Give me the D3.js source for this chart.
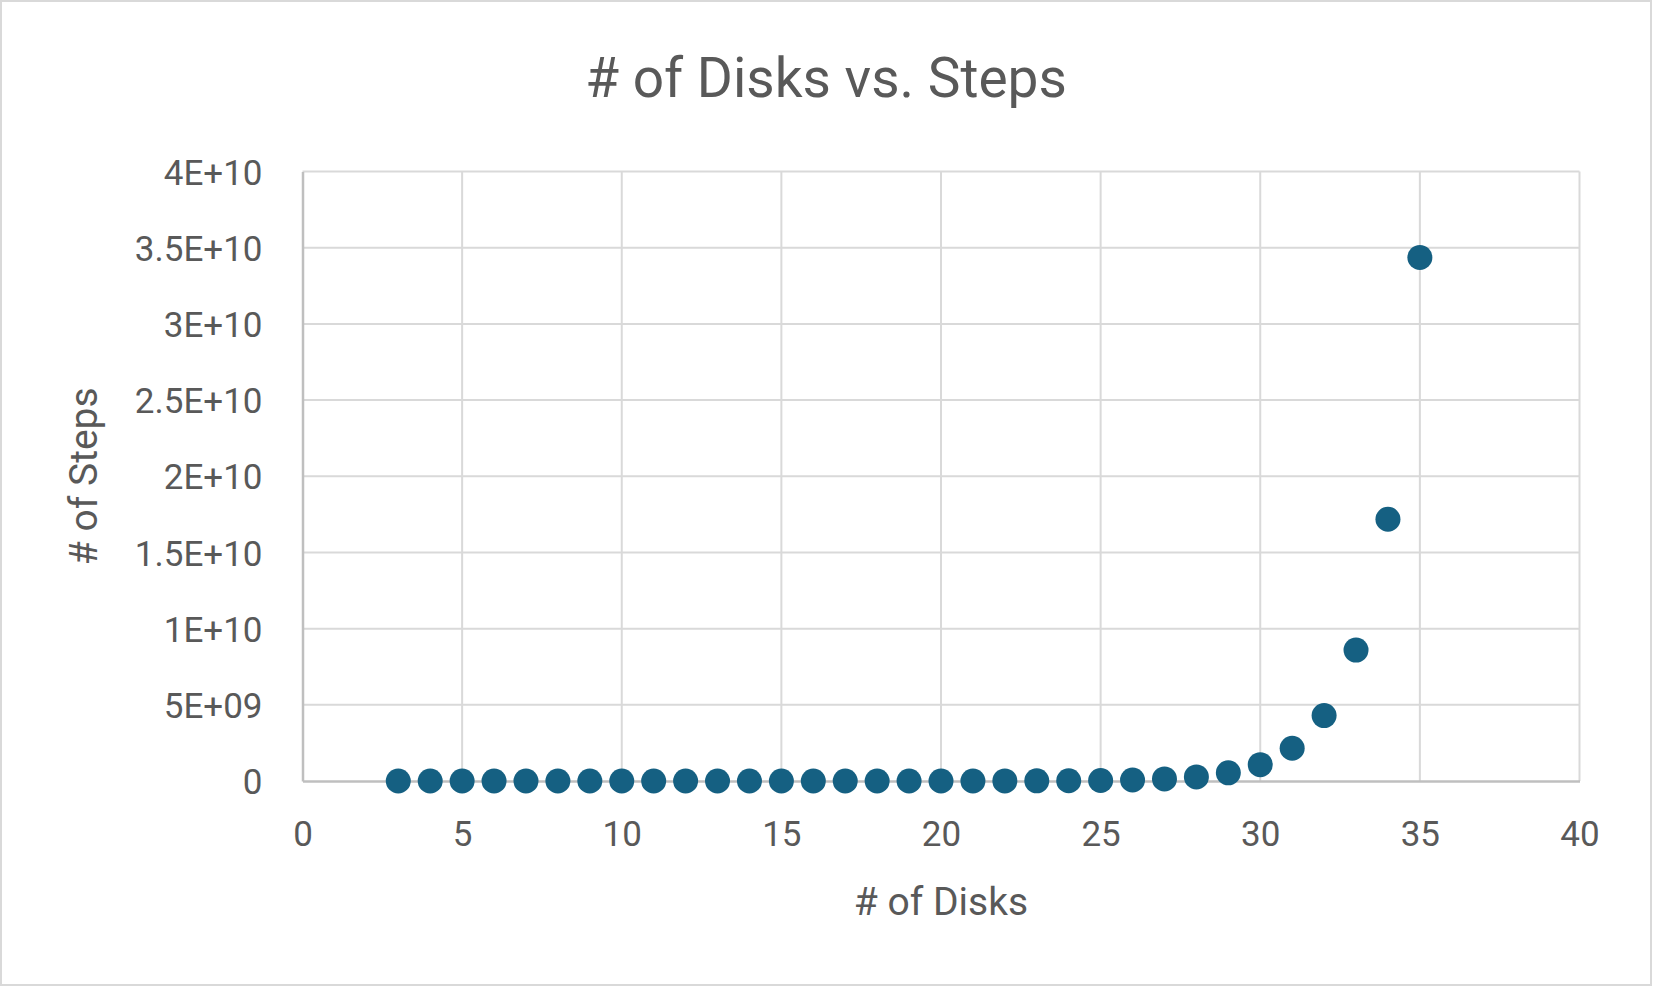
<!DOCTYPE html>
<html>
<head>
<meta charset="utf-8">
<script src="https://cdn.jsdelivr.net/npm/d3@7"></script>
<style>
  html, body { margin: 0; padding: 0; background: #fff; }
  svg { display: block; }
  text { font-family: Roboto, "Liberation Sans", sans-serif; fill: #595959; }
</style>
</head>
<body>
<svg id="chart" width="1653" height="987"></svg>
<script>
const chartTitle = "# of Disks vs. Steps";
const xTitle = "# of Disks";
const yTitle = "# of Steps";
const disks = [3, 4, 5, 6, 7, 8, 9, 10, 11, 12, 13, 14, 15, 16, 17, 18, 19, 20, 21, 22, 23, 24, 25, 26, 27, 28, 29, 30, 31, 32, 33, 34, 35];
const steps = [7, 15, 31, 63, 127, 255, 511, 1023, 2047, 4095, 8191, 16383, 32767, 65535, 131071, 262143, 524287, 1048575, 2097151, 4194303, 8388607, 16777215, 33554431, 67108863, 134217727, 268435455, 536870911, 1073741823, 2147483647, 4294967295, 8589934591, 17179869183, 34359738367];
const xTicks = [0, 5, 10, 15, 20, 25, 30, 35, 40];
const yTicks = [0, 5e9, 1e10, 1.5e10, 2e10, 2.5e10, 3e10, 3.5e10, 4e10];
const yTickLabels = ["0", "5E+09", "1E+10", "1.5E+10", "2E+10", "2.5E+10", "3E+10", "3.5E+10", "4E+10"];

const svg = d3.select("#chart");
const W = 1653, H = 987;
const m = { left: 302.5, right: 1579.5, top: 171.5, bottom: 781 };

svg.append("rect").attr("x", 1).attr("y", 1).attr("width", W - 3).attr("height", H - 3)
  .attr("fill", "#fff").attr("stroke", "#d9d9d9").attr("stroke-width", 2);

const x = d3.scaleLinear().domain([0, 40]).range([m.left, m.right]);
const y = d3.scaleLinear().domain([0, 4e10]).range([m.bottom, m.top]);

// gridlines
const grid = svg.append("g");
grid.selectAll("line.v").data(xTicks.filter(d => d > 0)).join("line")
  .attr("x1", d => x(d)).attr("x2", d => x(d)).attr("y1", m.top).attr("y2", m.bottom)
  .attr("stroke", "#d9d9d9").attr("stroke-width", 2);
grid.selectAll("line.h").data(yTicks.filter(d => d > 0)).join("line")
  .attr("x1", m.left).attr("x2", m.right).attr("y1", d => y(d)).attr("y2", d => y(d))
  .attr("stroke", "#d9d9d9").attr("stroke-width", 2);

// axes via d3
const xAxis = d3.axisBottom(x).tickValues(xTicks).tickSize(0).tickPadding(0).tickFormat(d3.format("d"));
const gx = svg.append("g").attr("transform", `translate(0,${m.bottom})`).call(xAxis);
gx.select(".domain").attr("stroke", "#bfbfbf").attr("stroke-width", 2.5);
gx.selectAll("text").attr("dy", null).attr("y", 65).style("font-size", "35px").style("font-family", "Roboto").attr("fill", "#595959");

const yAxis = d3.axisLeft(y).tickValues(yTicks).tickSize(0).tickPadding(0)
  .tickFormat((d, i) => yTickLabels[i]);
const gy = svg.append("g").attr("transform", `translate(${m.left},0)`).call(yAxis);
gy.select(".domain").attr("stroke", "#bfbfbf").attr("stroke-width", 2.5);
gy.selectAll("text").attr("x", -40).attr("dy", "0.36em").style("font-size", "35px").style("font-family", "Roboto").attr("fill", "#595959");

// points
svg.append("g").selectAll("circle").data(disks).join("circle")
  .attr("cx", d => x(d)).attr("cy", (d, i) => y(steps[i])).attr("r", 12.5)
  .attr("fill", "#156082");

// titles
svg.append("text").attr("x", 826).attr("y", 96.5)
  .attr("text-anchor", "middle").style("font-size", "55px").text(chartTitle);
svg.append("text").attr("x", (m.left + m.right) / 2).attr("y", 915)
  .attr("text-anchor", "middle").style("font-size", "39px").text(xTitle);
svg.append("text").attr("transform", `translate(97,${(m.top + m.bottom) / 2}) rotate(-90)`)
  .attr("text-anchor", "middle").style("font-size", "39px").text(yTitle);
</script>
</body>
</html>
